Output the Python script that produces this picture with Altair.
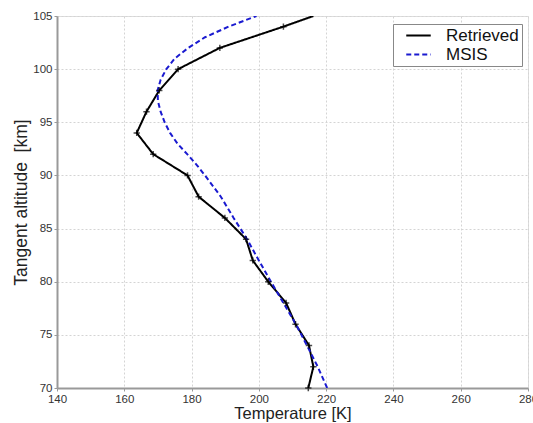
import altair as alt
import pandas as pd

# Retrieved profile (altitude km, temperature K)
ret_alt = [70, 72, 74, 76, 78, 80, 82, 84, 86, 88, 90, 92, 94, 96, 98, 100, 102, 104, 105]
ret_temp = [214.7, 216.2, 214.9, 210.9, 208.1, 202.8, 198.2, 196.2, 189.9, 182.1,
            178.8, 168.6, 163.7, 166.6, 170.4, 176.0, 188.4, 207.3, 216.2]

# MSIS model profile
msis_alt = [70, 72, 74, 76, 78, 80, 82, 84, 86, 88, 90, 91, 92, 93, 94, 95, 96, 97, 98,
            99, 100, 101, 102, 103, 104, 105]
msis_temp = [220.3, 217.5, 214.3, 211.0, 207.3, 203.6, 200.0, 196.5, 192.5, 188.7, 184.0,
             181.5, 178.7, 175.8, 173.6, 172.0, 170.8, 170.0, 169.9, 170.8, 172.5, 175.0,
             179.0, 184.0, 191.0, 199.3]

series_names = ["Retrieved", "MSIS"]
x_ticks = [140, 160, 180, 200, 220, 240, 260, 280]
y_ticks = [70, 75, 80, 85, 90, 95, 100, 105]

df_ret = pd.DataFrame({"alt": ret_alt, "temp": ret_temp, "series": series_names[0]})
df_msis = pd.DataFrame({"alt": msis_alt, "temp": msis_temp, "series": series_names[1]})
df = pd.concat([df_ret, df_msis], ignore_index=True)

FONT = "Liberation Sans"

x_enc = alt.X("temp:Q", scale=alt.Scale(domain=[140, 280], nice=False, zero=False),
              axis=alt.Axis(values=x_ticks, title="Temperature [K]", grid=True,
                            gridColor="#d4d4d4", gridDash=[2, 2], labelFontSize=11.5,
                            labelColor="#333333", titleFontSize=16.5, titleFontWeight="normal",
                            titleColor="#222222", domainColor="#999999", domainWidth=2,
                            tickColor="#999999", tickSize=3, labelPadding=2, titlePadding=1,
                            labelFlush=False, labelOverlap=False, labelBound=False,
                            labelFont=FONT, titleFont=FONT))
y_enc = alt.Y("alt:Q", scale=alt.Scale(domain=[70, 105], nice=False, zero=False),
              axis=alt.Axis(values=y_ticks, title="Tangent altitude \u00a0[km]", grid=True,
                            gridColor="#d4d4d4", gridDash=[2, 2], labelFontSize=11.5,
                            labelColor="#333333", titleFontSize=17.5, titleFontWeight="normal",
                            titleColor="#222222", domainColor="#999999", domainWidth=2,
                            tickColor="#999999", tickSize=3, labelPadding=2, titlePadding=2,
                            labelFlush=False, labelOverlap=False,
                            labelFont=FONT, titleFont=FONT))

color_scale = alt.Scale(domain=series_names, range=["#000000", "#1a1ad0"])
dash_scale = alt.Scale(domain=series_names, range=[[1, 0], [5, 3]])

lines = alt.Chart(df).mark_line(strokeWidth=2, clip=True).encode(
    x=x_enc,
    y=y_enc,
    order=alt.Order("alt:Q"),
    color=alt.Color("series:N", scale=color_scale, sort=series_names,
                    legend=alt.Legend(title=None, orient="none", legendX=336, legendY=8,
                                      fillColor="white", strokeColor="#888888",
                                      padding=3, labelFontSize=17, labelFont=FONT,
                                      labelColor="#111111", symbolType="M-2,0L2,0",
                                      symbolSize=150, symbolStrokeWidth=2,
                                      symbolOffset=14,
                                      rowPadding=1, labelOffset=19)),
    strokeDash=alt.StrokeDash("series:N", scale=dash_scale, sort=series_names, legend=None),
)

points = alt.Chart(df_ret).transform_filter("datum.alt < 105").mark_point(
    shape="M-1,0L1,0M0,-1L0,1", size=40, filled=False, color="black", strokeWidth=1.5
).encode(x="temp:Q", y="alt:Q")

chart = alt.layer(lines, points).properties(
    width=471, height=372,
    padding={"left": 57, "top": 16, "right": 5, "bottom": 35},
    autosize=alt.AutoSizeParams(type="none"),
).configure_view(stroke="#aaaaaa", strokeWidth=1).configure(background="white")

chart.save("out.html", embed_options={"renderer": "svg", "actions": False})
